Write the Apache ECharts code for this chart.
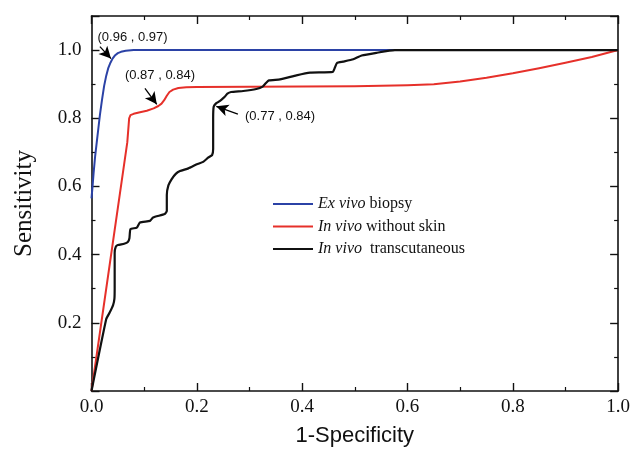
<!DOCTYPE html>
<html>
<head>
<meta charset="utf-8">
<script src="https://cdn.jsdelivr.net/npm/echarts@6/dist/echarts.min.js"></script>
<style>html,body{margin:0;padding:0;background:#fff}#c{width:633px;height:452px}</style>
</head>
<body>
<div id="c"></div>
<script>
// ---- data ----
const seriesNames = ['Ex vivo biopsy', 'In vivo without skin', 'In vivo  transcutaneous'];
const blueXY = [[0,0.565],[0.002,0.6],[0.004,0.64],[0.007,0.69],[0.01,0.73],[0.013,0.77],[0.016,0.81],[0.02,0.855],[0.024,0.895],[0.028,0.925],[0.032,0.948],[0.036,0.963],[0.04,0.975],[0.045,0.985],[0.05,0.991],[0.056,0.995],[0.065,0.998],[0.08,1],[1,1]];
const redXY = [[0,0],[0.068,0.73],[0.0705,0.78],[0.0715,0.8],[0.074,0.809],[0.08,0.813],[0.09,0.817],[0.105,0.822],[0.118,0.829],[0.127,0.836],[0.133,0.843],[0.138,0.853],[0.143,0.866],[0.148,0.877],[0.155,0.884],[0.165,0.889],[0.18,0.891],[0.2,0.892],[0.4,0.893],[0.5,0.894],[0.6,0.897],[0.65,0.9],[0.7,0.908],[0.75,0.919],[0.8,0.932],[0.85,0.947],[0.9,0.963],[0.95,0.98],[1,1]];
const blackXY = [[0,0],[0.028,0.211],[0.0345,0.23],[0.041,0.252],[0.0435,0.27],[0.044,0.3],[0.044,0.405],[0.046,0.423],[0.05,0.428],[0.062,0.432],[0.069,0.437],[0.072,0.448],[0.074,0.475],[0.086,0.479],[0.092,0.494],[0.111,0.499],[0.117,0.509],[0.139,0.519],[0.143,0.528],[0.143,0.575],[0.146,0.603],[0.152,0.621],[0.16,0.637],[0.168,0.645],[0.184,0.653],[0.2,0.665],[0.212,0.672],[0.222,0.685],[0.229,0.692],[0.231,0.71],[0.231,0.8],[0.232,0.834],[0.236,0.843],[0.241,0.848],[0.247,0.855],[0.253,0.863],[0.258,0.872],[0.265,0.877],[0.288,0.88],[0.313,0.886],[0.325,0.893],[0.331,0.903],[0.337,0.911],[0.358,0.914],[0.389,0.926],[0.415,0.934],[0.458,0.936],[0.462,0.948],[0.466,0.962],[0.478,0.966],[0.497,0.973],[0.513,0.984],[0.541,0.992],[0.576,1.0],[1,1]];
const annotationText = ['(0.96 , 0.97)', '(0.87 , 0.84)', '(0.77 , 0.84)'];
const annotationPos = [[0.078,1.037],[0.13,0.926],[0.358,0.806]];
const arrowFrom = [[0.016,1.01],[0.1015,0.888],[0.278,0.812]];
const arrowTo = [[0.037,0.975],[0.124,0.841],[0.237,0.835]];
const xTicks = {min:0, max:1, interval:0.2};
const yTicks = {min:0, max:1.1, interval:0.2};

const colors = ['#2b42a6', '#e6302a', '#111111'];
const serif = 'Liberation Serif';
const sans = 'Liberation Sans';

function mkMark(i){
  return {
    markLine: {
      silent: true, animation: false,
      symbol: ['none','arrow'], symbolSize: [9,12],
      lineStyle: {color:'#000', width:1.3, type:'solid'},
      label: {show:false},
      data: [[{coord: arrowFrom[i]}, {coord: arrowTo[i]}]]
    },
    markPoint: {
      silent: true, animation: false,
      symbol: 'circle', symbolSize: 0,
      label: {show:true, position:'inside', color:'#111', fontFamily:sans, fontSize:13, formatter: annotationText[i]},
      data: [{coord: annotationPos[i]}]
    }
  };
}

const chart = echarts.init(document.getElementById('c'), null, {renderer:'canvas'});
const axisCommon = {
  axisLine: {show:true, onZero:false, lineStyle:{color:'#111', width:1.6}},
  axisTick: {show:true, inside:true, length:8, lineStyle:{color:'#111', width:1.4}},
  minorTick: {show:true, splitNumber:2, length:4, lineStyle:{color:'#111', width:1.2}},
  splitLine: {show:false}
};
const legendRich = {i:{fontStyle:'italic', fontFamily:serif, fontSize:16, color:'#111'}};
chart.setOption({
  animation: false,
  backgroundColor: '#fff',
  grid: {left:91.5, right:14, top:16, bottom:60, containLabel:false},
  legend: {
    orient:'vertical', left:268, top:190,
    itemWidth:40, itemHeight:2, itemGap:4.5, icon:'rect',
    textStyle:{fontFamily:serif, fontSize:16, color:'#111', lineHeight:18, rich:legendRich},
    formatter: function(name){
      const m = name.match(/^(Ex vivo|In vivo)(.*)$/);
      return m ? '{i|' + m[1] + '}' + m[2] : name;
    },
    data: seriesNames
  },
  xAxis: [
    Object.assign({type:'value', position:'bottom', min:xTicks.min, max:xTicks.max, interval:xTicks.interval,
      name:'1-Specificity', nameLocation:'middle', nameGap:34,
      nameTextStyle:{fontFamily:sans, fontSize:22, color:'#111'},
      axisLabel:{show:true, margin:7, fontFamily:serif, fontSize:19, color:'#111', formatter:v=>v.toFixed(1)}}, axisCommon),
    Object.assign({type:'value', position:'top', min:xTicks.min, max:xTicks.max, interval:xTicks.interval,
      axisLabel:{show:false}}, axisCommon)
  ],
  yAxis: [
    Object.assign({type:'value', position:'left', min:yTicks.min, max:yTicks.max, interval:yTicks.interval,
      name:'Sensitivity', nameLocation:'middle', nameGap:55,
      nameTextStyle:{fontFamily:serif, fontSize:25, color:'#111'},
      axisLabel:{show:true, margin:10, fontFamily:serif, fontSize:19, color:'#111', showMinLabel:false, showMaxLabel:false,
        formatter:v=>(Math.abs(v*10 % 2) < 1e-6 || Math.abs(v*10 % 2 - 2) < 1e-6) ? v.toFixed(1) : ''}}, axisCommon),
    Object.assign({type:'value', position:'right', min:yTicks.min, max:yTicks.max, interval:yTicks.interval,
      axisLabel:{show:false}}, axisCommon)
  ],
  series: [
    Object.assign({name:seriesNames[0], type:'line', data:blueXY, showSymbol:false, smooth:false,
      lineStyle:{color:colors[0], width:2, join:'round'}, itemStyle:{color:colors[0]}}, mkMark(0)),
    Object.assign({name:seriesNames[1], type:'line', data:redXY, showSymbol:false, smooth:false,
      lineStyle:{color:colors[1], width:2, join:'round'}, itemStyle:{color:colors[1]}}, mkMark(1)),
    Object.assign({name:seriesNames[2], type:'line', data:blackXY, showSymbol:false, smooth:0.15,
      lineStyle:{color:colors[2], width:2.2, join:'round'}, itemStyle:{color:colors[2]}}, mkMark(2))
  ]
});
</script>
</body>
</html>
